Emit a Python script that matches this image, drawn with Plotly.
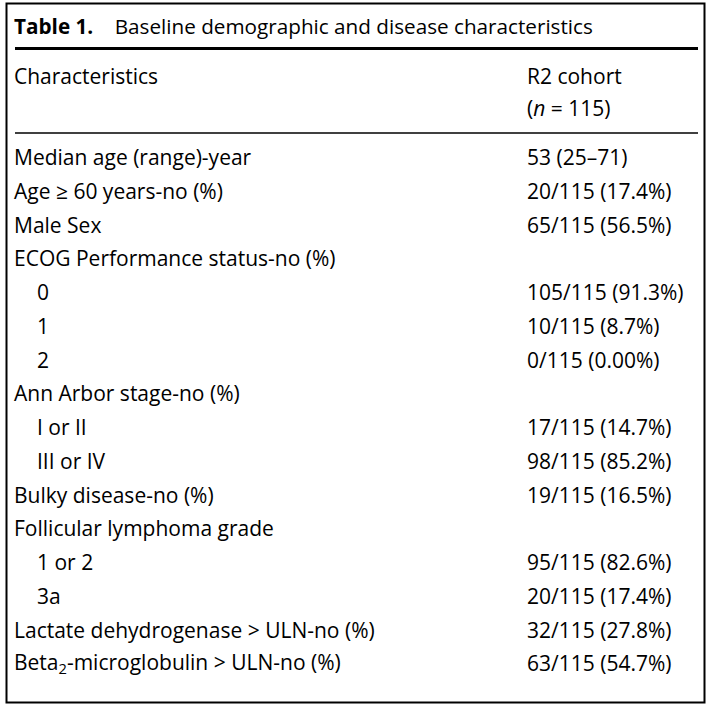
import plotly.graph_objects as go

W, H = 714, 709

title_bold = "Table 1."
title_text = "Baseline demographic and disease characteristics"
col_headers = ["Characteristics", "R2 cohort"]
col_subheader = "(<i>n</i> = 115)"

row_labels = [
    "Median age (range)-year",
    "Age ≥ 60 years-no (%)",
    "Male Sex",
    "ECOG Performance status-no (%)",
    "0",
    "1",
    "2",
    "Ann Arbor stage-no (%)",
    "I or II",
    "III or IV",
    "Bulky disease-no (%)",
    "Follicular lymphoma grade",
    "1 or 2",
    "3a",
    "Lactate dehydrogenase &gt; ULN-no (%)",
    "Beta<sub>2</sub>-microglobulin &gt; ULN-no (%)",
]
row_values = [
    "53 (25–71)",
    "20/115 (17.4%)",
    "65/115 (56.5%)",
    "",
    "105/115 (91.3%)",
    "10/115 (8.7%)",
    "0/115 (0.00%)",
    "",
    "17/115 (14.7%)",
    "98/115 (85.2%)",
    "19/115 (16.5%)",
    "",
    "95/115 (82.6%)",
    "20/115 (17.4%)",
    "32/115 (27.8%)",
    "63/115 (54.7%)",
]
row_indent = [0, 0, 0, 0, 1, 1, 1, 0, 1, 1, 0, 0, 1, 1, 0, 0]

FONT = "Open Sans"
FS = 21
COLOR = "#000000"

def px(x):
    return x / W

def py(y):
    return 1 - y / H

fig = go.Figure()
ann = []

def add_text(x, y, text, size=FS, xanchor="left"):
    ann.append(dict(x=px(x), y=py(y), xref="paper", yref="paper", text=text,
                    showarrow=False, xanchor=xanchor, yanchor="middle",
                    font=dict(family=FONT, size=size, color=COLOR)))

add_text(12, 26, "<b>" + title_bold + "</b>&nbsp;&nbsp;&nbsp;&nbsp;" + title_text, size=20.7)
add_text(12, 76, col_headers[0])
add_text(525, 76, col_headers[1])
add_text(525, 108, col_subheader)

y0, dy = 157, 33.75
for i, (lab, val, ind) in enumerate(zip(row_labels, row_values, row_indent)):
    y = y0 + i * dy
    add_text(35 if ind else 12, y, lab)
    if val:
        add_text(525, y, val)

shapes = [
    dict(type="rect", xref="paper", yref="paper", x0=px(6.5), x1=px(704.5),
         y0=py(3.5), y1=py(702.5), line=dict(color="black", width=2)),
    dict(type="line", xref="paper", yref="paper", x0=px(15), x1=px(698),
         y0=py(48.5), y1=py(48.5), line=dict(color="black", width=3)),
    dict(type="line", xref="paper", yref="paper", x0=px(15), x1=px(698),
         y0=py(133), y1=py(133), line=dict(color="black", width=1.5)),
]

fig.update_layout(
    width=W, height=H, margin=dict(l=0, r=0, t=0, b=0),
    paper_bgcolor="white", plot_bgcolor="white",
    xaxis=dict(visible=False, range=[0, 1]),
    yaxis=dict(visible=False, range=[0, 1]),
    annotations=ann, shapes=shapes, showlegend=False,
)

fig.write_html("out.html", config={"displayModeBar": False},
               post_script="document.body.style.margin='0';document.body.style.overflow='hidden';")
